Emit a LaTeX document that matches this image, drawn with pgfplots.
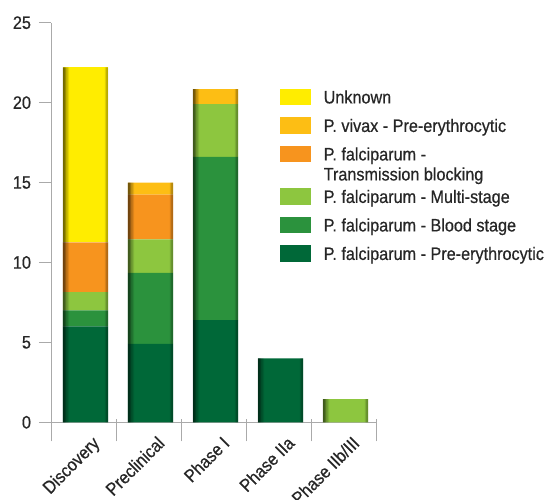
\documentclass[border=0pt]{standalone}
\usepackage{pgfplots}
\usepackage{pgfplotstable}
\pgfplotsset{compat=1.18}
\usepackage{fontspec}
\setmainfont{Liberation Sans}[FakeStretch=0.9, FakeBold=0.6]

\definecolor{textC}{HTML}{262626}
\definecolor{axisC}{HTML}{AAAAAA}
\definecolor{unkC}{HTML}{FFED00}
\definecolor{vivC}{HTML}{FDBE14}
\definecolor{tbC}{HTML}{F7941E}
\definecolor{msC}{HTML}{8DC63F}
\definecolor{bsC}{HTML}{2B923D}
\definecolor{peC}{HTML}{006838}

\pgfplotstableread{
x t
0 22.2
1 15.0
2 20.85
3 4
4 1.45
}\totals

\begin{document}
\begin{tikzpicture}
\begin{axis}[
  name=ax,
  scale only axis,
  width=325pt, height=399.6pt,
  xmin=-0.5, xmax=4.5, ymin=0, ymax=25,
  ybar stacked, bar width=45pt, bar shift=2pt,
  axis x line*=bottom, axis y line*=left,
  axis line style={draw=axisC, line width=0.8pt, -},
  ytick={0,5,...,25},
  ytick style={draw=axisC, line width=0.8pt},
  tick align=outside,
  major tick length=12pt,
  yticklabel style={xshift=-4.5pt},
  xtick={0,...,4},
  xticklabels={Discovery,Preclinical,Phase I,Phase IIa,Phase IIb/III},
  xtick style={draw=none},
  extra x ticks={-0.5,0.5,1.5,2.5,3.5,4.5},
  extra x tick labels={},
  extra x tick style={xtick style={draw=axisC, line width=0.8pt, yshift=3pt}, major tick length=22pt},
  xticklabel style={rotate=45, anchor=north east, inner sep=1pt, xshift=6pt, yshift=-5pt},
  tick label style={font=\fontsize{18}{20}\selectfont, text=textC},
  /pgf/number format/assume math mode=true,
  reverse legend,
  legend style={draw=none, fill=none, at={(0.7046,0.836)}, anchor=north west,
    inner sep=0pt, /tikz/row sep=6.5pt, /tikz/column sep=11.5pt,
    font=\fontsize{18}{20}\selectfont, text=textC,
    cells={anchor=base west},
    nodes={inner sep=1pt, text height=14pt, text depth=6pt}},
]
\addplot[fill=peC, draw=none, legend image code/.code={\fill[peC] (0pt,-1.85pt) rectangle (31pt,14.85pt);}]
  coordinates {(0,6) (1,4.9) (2,6.4) (3,4) (4,0)};
\addlegendentry{P. falciparum - Pre-erythrocytic}
\addplot[fill=bsC, draw=none, legend image code/.code={\fill[bsC] (0pt,-1.85pt) rectangle (31pt,14.85pt);}]
  coordinates {(0,1) (1,4.45) (2,10.2) (3,0) (4,0)};
\addlegendentry{P. falciparum - Blood stage}
\addplot[fill=msC, draw=none, legend image code/.code={\fill[msC] (0pt,-1.85pt) rectangle (31pt,14.85pt);}]
  coordinates {(0,1.15) (1,2.1) (2,3.3) (3,0) (4,1.45)};
\addlegendentry{P. falciparum - Multi-stage}
\addplot[fill=tbC, draw=none, legend image code/.code={\fill[tbC] (0pt,-1.85pt) rectangle (31pt,14.85pt);}]
  coordinates {(0,3.1) (1,2.8) (2,0) (3,0) (4,0)};
\addlegendentry[text depth=20pt]{\begin{tabular}[t]{@{}l@{}}P. falciparum -\\Transmission blocking\end{tabular}}
\addplot[fill=vivC, draw=none, legend image code/.code={\fill[vivC] (0pt,-1.85pt) rectangle (31pt,14.85pt);}]
  coordinates {(0,0) (1,0.75) (2,0.95) (3,0) (4,0)};
\addlegendentry{P. vivax - Pre-erythrocytic}
\addplot[fill=unkC, draw=none, legend image code/.code={\fill[unkC] (0pt,-1.85pt) rectangle (31pt,14.85pt);}]
  coordinates {(0,10.95) (1,0) (2,0) (3,0) (4,0)};
\addlegendentry{Unknown}
\end{axis}
% edge darkening of each bar (bar totals)
\begin{axis}[
  at={(ax.south west)}, anchor=south west,
  scale only axis, width=325pt, height=399.6pt,
  xmin=-0.5, xmax=4.5, ymin=0, ymax=25, hide axis,
]
\addplot[ybar, bar width=1.6pt, bar shift=-19.75pt, fill=black, fill opacity=0.55, draw=none] table[x=x,y=t]{\totals};
\addplot[ybar, bar width=1.6pt, bar shift=-18.25pt, fill=black, fill opacity=0.38, draw=none] table[x=x,y=t]{\totals};
\addplot[ybar, bar width=1.6pt, bar shift=-16.75pt, fill=black, fill opacity=0.22, draw=none] table[x=x,y=t]{\totals};
\addplot[ybar, bar width=1.6pt, bar shift=-15.25pt, fill=black, fill opacity=0.10, draw=none] table[x=x,y=t]{\totals};
\addplot[ybar, bar width=1.6pt, bar shift=23.75pt, fill=black, fill opacity=0.28, draw=none] table[x=x,y=t]{\totals};
\addplot[ybar, bar width=1.6pt, bar shift=22.25pt, fill=black, fill opacity=0.12, draw=none] table[x=x,y=t]{\totals};
\end{axis}
\pgfresetboundingbox
\path[use as bounding box] ([shift={(-51pt,-77.7pt)}]ax.south west) rectangle ([shift={(500pt,422.3pt)}]ax.south west);
\end{tikzpicture}
\end{document}
